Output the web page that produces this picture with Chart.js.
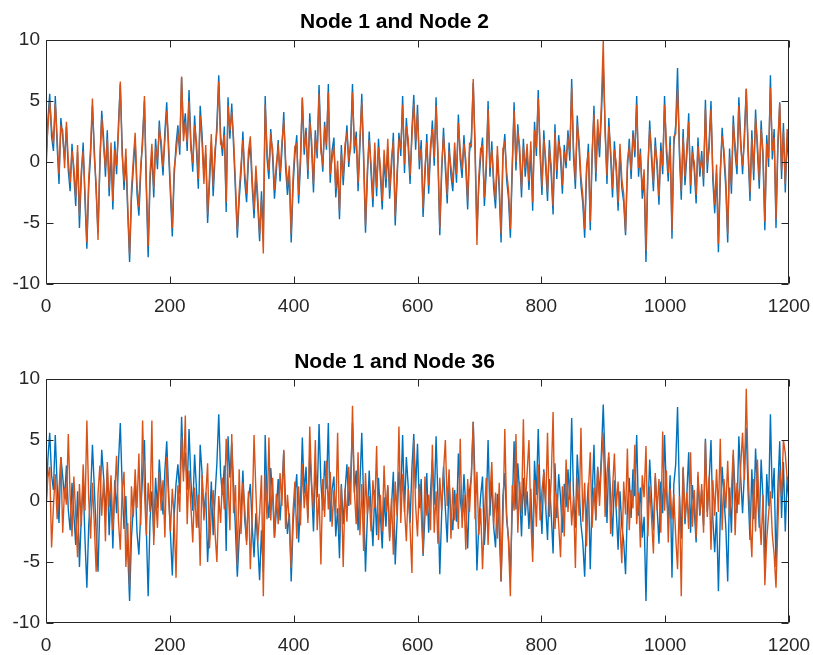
<!DOCTYPE html>
<html>
<head>
<meta charset="utf-8">
<script src="https://cdn.jsdelivr.net/npm/chart.js@4.4.1/dist/chart.umd.min.js"></script>
<style>
  html, body { margin: 0; padding: 0; background: #fff; }
  #wrap { position: relative; width: 813px; height: 655px; }
  .panel { position: absolute; left: 0; width: 813px; }
  #top { top: 0; height: 330px; }
  #bottom { top: 330px; height: 325px; }
</style>
</head>
<body>
<div id="wrap">
  <div class="panel" id="top"><canvas id="chartTop" width="813" height="330"></canvas></div>
  <div class="panel" id="bottom"><canvas id="chartBottom" width="813" height="325"></canvas></div>
</div>
<script>
// one sample every 3 time steps
const SAMPLE_STEP = 3;
const X_TICKS = [0, 200, 400, 600, 800, 1000, 1200];
const Y_TICKS = [-10, -5, 0, 5, 10];
const TITLES = ['Node 1 and Node 2', 'Node 1 and Node 36'];

const node1 = [
  -0.9, 3.4, 5.6, 2.1, 0.9, 5.4, 1.3, -1.8, 3.6, 2.0, 0.2, 2.9, -0.7, -2.4, 1.5, -1.1, -3.6, 0.8, -5.4, -1.3,
  1.6, -3.2, -7.1, -2.0, 0.5, 4.6, 1.1, -2.5, -5.8, -0.4, 4.2, 2.0, -1.2, 2.6, -2.8, 0.9, -3.9, 1.7, -1.0, 3.1,
  6.4, 1.2, -2.3, 0.4, -4.1, -8.2, -3.0, -0.5, 1.8, -2.6, -4.4, -0.9, 2.1, 5.0, -2.2, -7.8, -1.6, 0.8, -2.9, 1.9,
  -0.6, 3.4, 1.0, -1.1, 2.5, 4.9, 0.8, -2.7, -6.1, -1.2, 1.4, 3.0, 0.6, 6.9, 2.4, 4.0, 0.9, 5.9, 1.7, -0.8,
  3.8, 1.0, -2.2, 4.6, 2.3, -1.0, 0.7, -5.0, -1.8, 1.6, -2.8, 0.4, 3.1, 7.1, 2.2, 0.5, 2.9, -4.1, 5.3, 1.9,
  4.8, 1.2, -2.4, -6.2, -3.1, -0.9, 2.5, -1.6, -3.3, 0.2, 1.4, -2.0, -4.6, -1.0, -3.5, -6.5, -2.4, -5.8, 5.4, 0.3,
  -1.4, 2.7, 0.4, -3.0, -0.8, 1.8, -1.6, 0.9, 4.1, -0.5, -2.7, -1.0, -6.6, -2.0, 0.6, 2.2, -3.4, -0.2, 5.2, 0.6,
  2.8, -1.4, 4.0, 1.1, -2.5, 2.6, 0.3, 6.3, 1.5, -0.8, 3.3, 1.0, 6.4, -1.7, 0.9, 2.0, -2.9, -0.6, -4.7, 1.4,
  -1.9, 0.8, 3.0, -0.4, 1.8, 6.4, 0.7, 2.5, -2.4, 1.3, 5.6, 0.1, -5.8, -1.3, 2.5, -0.9, -3.7, 0.9, -2.8, 1.9,
  -1.1, -3.9, 0.3, -2.1, 1.2, -3.0, -0.4, 2.4, -5.2, -1.5, 2.4, 0.5, 5.4, -0.9, 3.6, 1.2, -1.8, 2.7, 5.5, 1.0,
  4.7, -0.6, 1.8, -4.5, -1.2, 2.3, -2.6, 0.7, 3.4, -0.3, 5.3, 0.2, -6.0, -1.0, 2.8, -0.6, -3.4, 1.6, -1.1, -2.4,
  0.9, -1.7, 3.9, 0.2, -1.3, 2.2, -0.5, -3.9, 0.8, 2.0, 6.5, 1.4, -5.7, -1.9, 0.4, 2.0, -3.6, -0.8, 5.0, -1.2,
  1.7, -2.1, -3.8, 0.6, -2.4, -6.6, 0.4, 2.3, -1.5, -3.0, -6.2, -0.8, 4.9, -0.7, 3.1, 0.6, -2.9, 1.9, -1.2, 0.8,
  -2.3, 1.0, -4.0, 3.3, 0.5, 5.9, 0.6, -2.7, 2.6, -0.4, -3.2, 1.8, -1.1, -4.3, 3.1, -1.4, 2.2, 0.3, -2.6, 1.4,
  -0.5, 2.6, 0.1, 6.8, 0.4, -2.2, 3.8, 1.0, -1.9, -3.4, -6.2, -1.0, 1.5, -5.6, 0.2, 4.6, -1.6, 2.8, 0.4, 3.9,
  7.9, 3.0, -1.8, 3.6, 0.3, -2.9, 1.7, -0.8, -4.0, 0.8, -2.1, -3.3, -6.0, -0.6, 1.9, -1.4, 2.6, 0.4, 5.4, -1.2,
  1.1, -3.0, -1.3, -8.2, -1.1, 3.4, 0.2, -2.4, 2.0, -0.6, -3.5, 1.6, -1.0, 5.4, 0.8, -1.6, 2.1, -6.3, 1.4, 3.0,
  7.7, 0.6, -3.1, 2.7, -1.9, 0.5, 4.0, -2.6, 1.3, -0.7, -3.4, 2.0, -1.2, 0.9, -2.0, 5.1, -0.9, 1.7, 5.0, -1.5,
  -4.2, -0.9, -7.4, -1.3, 2.8, 0.3, -2.2, -6.6, 1.1, -2.6, 3.8, 0.7, -1.0, 5.3, 1.9, -1.0, 2.4, 6.0, 0.6, -3.2,
  2.6, -1.5, 4.3, 0.9, -2.2, 3.4, 0.2, -5.6, 2.2, -0.4, 7.1, 0.2, 2.7, -5.4, 1.0, 4.9, -1.4, 3.2, -2.5, 2.0,
  -0.2
];

const node2 = [
  0.3, 2.7, 5.0, 2.8, 1.5, 4.8, 2.0, -1.0, 2.9, 2.6, -0.5, 3.3, 0.1, -1.7, 0.9, -0.4, -2.9, 1.4, -4.4, -0.7,
  0.9, -2.5, -6.6, -1.3, 1.2, 5.2, 0.4, -1.8, -6.4, 0.3, 3.6, 1.3, -0.5, 1.9, -2.1, 1.6, -3.2, 1.0, -0.3, 2.4,
  6.6, 0.5, -1.6, 1.1, -3.5, -7.6, -2.3, 0.2, 2.4, -1.9, -3.7, -0.2, 1.4, 5.4, -1.5, -6.9, -0.9, 1.5, -2.2, 1.2,
  0.1, 2.7, 1.7, -0.4, 1.8, 4.2, 1.5, -2.0, -5.4, -0.5, 0.7, 2.3, 1.3, 7.0, 1.7, 3.3, 1.6, 5.0, 1.0, -0.1,
  3.0, 1.7, -1.4, 3.8, 1.6, -1.8, 1.4, -4.3, -1.1, 2.3, -2.0, 1.1, 2.4, 6.6, 1.5, 1.2, 2.2, -3.3, 4.6, 2.6,
  4.1, 1.9, -1.7, -5.6, -2.4, -0.2, 1.8, -0.9, -2.6, 0.9, 2.1, -1.3, -3.9, -0.3, -2.8, -5.9, -3.1, -7.5, 4.7, 1.0,
  -0.7, 2.0, 1.1, -2.3, -0.1, 1.1, -0.9, 1.6, 3.4, 0.2, -2.0, -0.3, -5.9, -1.3, 1.3, 1.5, -2.7, 0.5, 5.3, 1.3,
  2.1, -0.7, 3.3, 1.8, -1.8, 1.9, 1.0, 5.6, 0.8, -0.1, 2.6, 1.7, 5.7, -1.0, 0.2, 1.3, -2.2, 0.1, -4.0, 0.7,
  -1.2, 1.5, 2.3, 0.3, 1.1, 5.7, 1.4, 1.8, -1.7, 2.0, 4.9, 0.8, -5.2, -0.6, 1.8, -0.2, -3.0, 1.6, -2.1, 1.2,
  -0.4, -3.2, 1.0, -1.4, 1.9, -2.3, 0.3, 1.7, -4.5, -0.8, 1.7, 1.2, 4.7, -0.2, 2.9, 1.9, -1.1, 2.0, 4.8, 1.7,
  4.0, 0.1, 1.1, -3.8, -0.5, 1.6, -1.9, 1.4, 2.7, 0.4, 4.6, 0.9, -5.4, -0.3, 2.1, 0.1, -2.7, 0.9, -0.4, -1.7,
  1.6, -1.0, 3.2, 0.9, -0.6, 1.5, 0.2, -3.2, 1.5, 1.3, 6.8, 0.7, -6.8, -1.2, 1.1, 1.3, -2.9, -0.1, 4.3, -0.5,
  1.0, -1.4, -3.1, 1.3, -1.7, -5.9, 1.1, 1.6, -0.8, -2.3, -5.5, -0.1, 4.2, 0.0, 2.4, 1.3, -2.2, 1.2, -0.5, 1.5,
  -1.6, 1.7, -3.3, 2.6, 1.2, 5.2, 1.3, -2.0, 1.9, 0.3, -2.5, 1.1, -0.4, -3.6, 2.4, -0.7, 1.5, 1.0, -1.9, 0.7,
  0.2, 1.9, 0.8, 6.1, 1.1, -1.5, 3.1, 1.7, -1.2, -2.7, -5.5, -0.3, 0.8, -4.9, 0.9, 3.9, -0.9, 3.5, 1.1, 4.8,
  10.0, 2.3, -1.1, 2.9, 1.0, -2.2, 1.0, -0.1, -3.3, 1.5, -1.4, -2.6, -5.7, 0.1, 1.2, -0.7, 1.9, 1.1, 4.7, -0.5,
  0.4, -2.3, -0.6, -7.3, -0.4, 2.7, 0.9, -1.7, 1.3, 0.1, -2.8, 0.9, -0.3, 4.7, 1.5, -0.9, 1.4, -5.6, 2.1, 2.3,
  6.0, 1.3, -2.4, 2.0, -1.2, 1.2, 3.3, -1.9, 0.6, 0.0, -2.7, 1.3, -0.5, 0.2, -1.3, 4.4, -0.2, 1.0, 4.3, -0.8,
  -3.5, -0.2, -6.7, -0.6, 2.1, 1.0, -1.5, -5.9, 0.4, -1.9, 3.1, 1.4, -0.3, 4.6, 1.2, -0.3, 1.7, 6.0, 1.3, -2.5,
  1.9, -0.8, 3.6, 1.6, -1.5, 2.7, 0.9, -4.9, 1.5, 0.3, 6.1, 0.9, 2.0, -4.7, 1.7, 4.8, -0.7, 2.5, -1.8, 2.7,
  0.5
];

const node36 = [
  -0.6, 1.9, 2.8, -3.8, -0.4, 2.2, -1.5, 0.9, 3.6, -2.6, 1.1, -0.3, 5.5, 0.4, -2.9, 2.0, -1.2, -4.6, 1.4, -2.1,
  3.0, -0.8, 6.6, 0.2, -3.1, 1.5, -1.9, -5.8, 0.6, 2.9, -1.2, 1.8, -3.3, 3.2, -0.5, 2.1, -2.4, 0.7, 3.7, -1.6,
  -4.0, 0.9, 2.4, -5.4, -1.8, -7.0, 1.2, -1.3, 2.6, -0.6, 3.9, -2.0, 6.6, 0.8, -2.8, 1.5, -0.9, 6.6, -3.6, 0.6,
  -2.2, 2.4, -0.8, 1.7, -3.0, 3.6, 0.3, -2.5, 1.0, -1.4, -6.3, 1.3, -0.9, 5.3, 1.6, 7.0, -1.9, 2.5, -0.4, -3.4,
  1.1, -2.2, 0.5, -5.3, 2.2, -1.6, 0.3, 3.1, -3.9, -1.0, 0.9, -2.6, -5.0, 0.4, -1.8, 1.9, -0.7, 5.1, 1.8, -2.4,
  5.5, -1.0, 1.3, -5.3, 2.6, -2.7, 1.5, -0.6, -3.6, 0.8, -5.6, -1.2, 5.4, 0.8, -3.4, -1.0, 2.1, -7.8, 2.2, -1.5,
  5.2, -1.6, 1.9, -3.0, 0.6, -1.9, 2.3, -0.4, 4.2, -2.3, 0.5, -1.7, -5.5, -0.8, 1.6, -3.1, 1.2, -2.0, 3.0, -0.6,
  1.4, -1.8, 6.1, 1.4, -0.7, 5.0, -2.4, 0.6, -5.2, 1.8, -1.3, 3.3, -0.7, 2.4, -2.1, 0.9, -1.0, 5.6, -2.6, 1.2,
  -5.4, 1.0, -1.7, 2.8, -0.3, 7.8, 0.9, -1.9, 4.0, -2.8, 1.4, -4.1, 2.3, -1.1, 0.4, -2.5, 1.7, -0.6, 4.5, -3.2,
  0.5, -2.5, 2.9, -0.9, 1.3, -3.3, 0.2, -4.4, 1.6, -1.2, 6.1, -1.8, 2.2, -0.6, -3.3, 1.0, -2.2, -5.9, 5.0, -0.4,
  -2.9, 1.4, -1.0, -4.3, 2.0, -1.2, 0.5, -2.4, 4.6, -2.6, 0.8, -3.5, 1.9, -0.8, 2.4, 5.0, -0.4, 2.6, -3.1, 1.1,
  -1.6, 0.6, -2.3, 5.1, -2.2, 0.5, -4.0, 1.8, -0.9, 2.2, 6.5, -1.5, 2.4, -2.8, -0.6, -5.6, -1.4, 1.9, -3.6, 0.4,
  3.2, -2.0, 0.7, -3.1, 1.5, -6.6, -1.7, 5.9, -1.1, -3.4, -7.8, 1.3, -0.8, 5.5, -2.6, 1.6, -1.0, 6.7, -0.6, 2.3,
  5.0, -1.4, -5.0, 1.7, -2.1, 3.0, -1.6, 0.9, 2.4, -0.4, 5.6, -1.3, 1.8, 7.3, -2.3, 0.6, -1.9, -4.6, 1.2, -2.9,
  3.4, -0.9, 1.6, -2.0, 0.4, -5.5, 2.0, -1.2, 6.0, -1.7, 1.5, -3.7, 0.8, 4.0, -2.2, 1.1, -1.5, 2.7, -0.4, 3.1,
  5.6, -1.3, 2.2, 4.0, -2.7, 1.0, 3.9, -0.5, 1.6, -2.2, -5.1, 1.6, -1.1, 4.3, -2.4, 0.9, -0.6, 4.6, -1.9, 0.7,
  -3.8, 2.1, 0.3, 4.5, -2.9, 1.2, -1.4, -4.3, 2.3, -0.8, 1.8, -2.6, 5.7, -0.8, 2.5, -3.4, 1.0, -1.5, 0.6, -2.9,
  -5.6, 0.4, -7.8, 2.8, -1.5, 0.7, -2.3, 4.0, -2.1, 0.9, -3.0, 2.4, -1.1, 1.4, -2.6, 4.9, -1.3, 2.0, -4.0, 1.7,
  -1.2, 2.6, -0.9, 5.1, -2.4, 1.8, -0.6, 3.3, -1.2, 0.9, 4.2, -2.8, 1.5, -0.3, 2.9, 5.6, 1.7, 9.2, 2.4, -1.6,
  -4.6, 1.8, -2.5, 3.4, -0.9, -3.6, 0.5, -6.9, -3.2, -1.1, 0.8, -2.7, -4.4, -7.1, -2.0, 2.6, 0.4, 5.0, 3.9, 1.8,
  1.0
];

const BLUE = '#0072BD';
const ORANGE = '#D95319';
const AXIS = '#262626';
const FONT = '"Liberation Sans", Arial, Helvetica, sans-serif';

const sampleX = node1.map((_, i) => i * SAMPLE_STEP);
const toPoints = vals => vals.map((v, i) => ({ x: sampleX[i], y: v }));

// MATLAB style box with inward ticks on all four sides
const matlabBox = {
  id: 'matlabBox',
  afterDraw(chart) {
    const { ctx, chartArea: a, scales: { x, y } } = chart;
    const L = Math.round(a.left) + 0.5, R = Math.round(a.right) - 0.5;
    const T = Math.round(a.top) + 0.5, B = Math.round(a.bottom) - 0.5;
    const len = 7;
    ctx.save();
    ctx.strokeStyle = AXIS;
    ctx.lineWidth = 1;
    ctx.beginPath();
    ctx.rect(L, T, R - L, B - T);
    X_TICKS.forEach(v => {
      const px = Math.round(x.getPixelForValue(v)) + 0.5;
      ctx.moveTo(px, B); ctx.lineTo(px, B - len);
      ctx.moveTo(px, T); ctx.lineTo(px, T + len);
    });
    Y_TICKS.forEach(v => {
      const py = Math.round(y.getPixelForValue(v)) + 0.5;
      ctx.moveTo(L, py); ctx.lineTo(L + len, py);
      ctx.moveTo(R, py); ctx.lineTo(R - len, py);
    });
    ctx.stroke();
    ctx.restore();
  }
};

function makeChart(id, title, other, titlePad, areaBottomGap) {
  return new Chart(document.getElementById(id), {
    type: 'line',
    data: {
      datasets: [
        { data: toPoints(other), borderColor: ORANGE, borderWidth: 1.4, pointRadius: 0, order: 0 },
        { data: toPoints(node1), borderColor: BLUE, borderWidth: 1.4, pointRadius: 0, order: 1 }
      ]
    },
    options: {
      responsive: false,
      animation: false,
      events: [],
      layout: { padding: { left: 0, right: 24, top: 0, bottom: 0 } },
      plugins: {
        legend: { display: false },
        tooltip: { enabled: false },
        title: {
          display: true,
          text: title,
          color: '#000',
          font: { family: FONT, size: 21, weight: 'bold', lineHeight: 1.2 },
          padding: titlePad
        }
      },
      scales: {
        x: {
          type: 'linear',
          min: 0, max: 1200,
          afterFit: s => { s.height = areaBottomGap; s.paddingLeft = 0; s.paddingRight = 0; },
          afterBuildTicks: s => { s.ticks = X_TICKS.map(v => ({ value: v })); },
          grid: { display: false, drawTicks: false },
          border: { display: false },
          ticks: {
            color: AXIS, padding: 11, maxRotation: 0,
            font: { family: FONT, size: 19 },
            callback: v => String(v)
          }
        },
        y: {
          min: -10, max: 10,
          afterFit: s => { s.width = 46; s.paddingTop = 0; s.paddingBottom = 0; },
          afterBuildTicks: s => { s.ticks = Y_TICKS.map(v => ({ value: v })); },
          grid: { display: false, drawTicks: false },
          border: { display: false },
          ticks: {
            color: AXIS, padding: 6,
            font: { family: FONT, size: 19 },
            callback: v => String(v)
          }
        }
      }
    },
    plugins: [matlabBox]
  });
}

makeChart('chartTop', TITLES[0], node2, { top: 10, bottom: 4.8 }, 46);
makeChart('chartBottom', TITLES[1], node36, { top: 20, bottom: 3.8 }, 32);
</script>
</body>
</html>
